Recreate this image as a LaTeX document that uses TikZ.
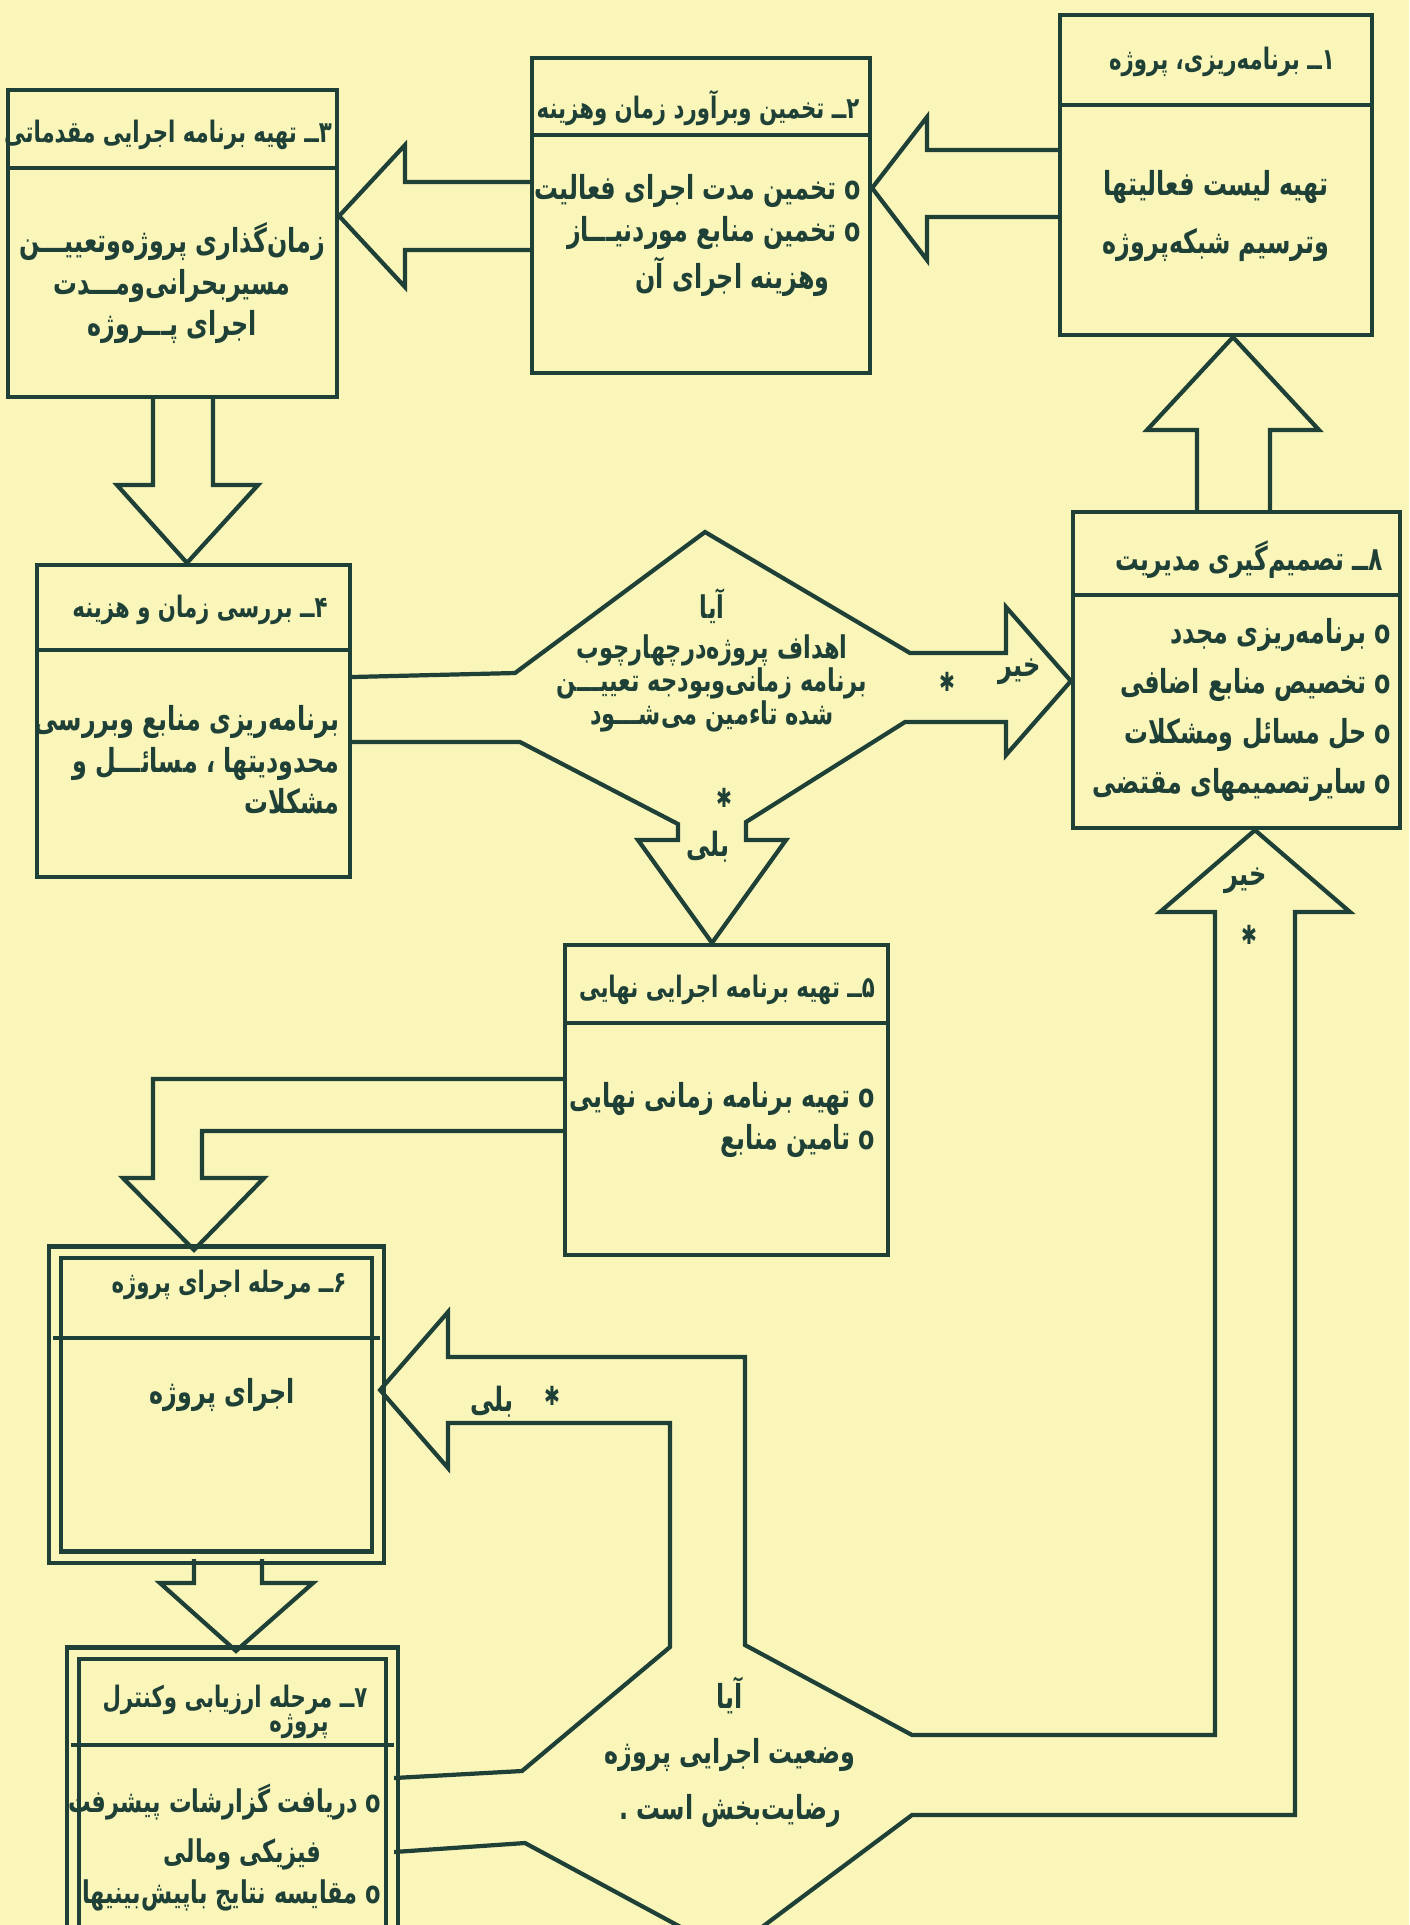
\documentclass[tikz,border=0pt]{standalone}
\usepackage{fontspec}
\newfontfamily\fafont[Script=Arabic, FakeStretch=0.72]{DejaVu Sans}
\TeXXeTstate=1
\usetikzlibrary{positioning}

\definecolor{paper}{RGB}{250,246,186}
\definecolor{ink}{RGB}{30,64,54}

% one right-to-left line
\newcommand{\rl}[1]{\beginR#1\endR}

\tikzset{
  box/.style={rectangle, draw=ink, line width=1.2pt, inner sep=0pt},
  dbox/.style={box, double=paper, double distance=2pt},
  rule/.style={draw=ink, line width=1.1pt},
  blockarrow/.style={draw=ink, line width=1.2pt, line join=miter},
  head/.style={font=\fafont\bfseries\fontsize{8.4}{10.5}\selectfont, text=ink, inner sep=0pt, align=center},
  body/.style={font=\fafont\bfseries\fontsize{9.4}{11.8}\selectfont, text=ink, inner sep=0pt, align=right},
  ask/.style={font=\fafont\bfseries\fontsize{8.9}{9.4}\selectfont, text=ink, inner sep=0pt, align=center},
  lbl/.style={font=\fafont\bfseries\fontsize{9.5}{9.5}\selectfont, text=ink, inner sep=0pt},
  starmark/.style={font=\fafont\fontsize{7.5}{7.5}\selectfont, text=ink, inner sep=0pt}
}

\begin{document}
\begin{tikzpicture}[x=0.1mm, y=-0.1mm]

    \useasboundingbox (0,0) rectangle (1409,1925);
    \clip (0,0) rectangle (1409,1925);
    \fill[paper] (0,0) rectangle (1409,1925);

    % boxes
    \node[box, minimum width=31.2mm, minimum height=32mm] (plan) at (1216,175) {};
    \node[box, minimum width=33.8mm, minimum height=31.5mm] (estimate) at (701,215.5) {};
    \node[box, minimum width=32.9mm, minimum height=30.7mm] (prelim) at (172.5,243.5) {};
    \node[box, minimum width=31.3mm, minimum height=31.2mm] (review) at (193.5,721) {};
    \node[box, minimum width=32.7mm, minimum height=31.6mm] (decide) at (1236.5,670) {};
    \node[box, minimum width=32.3mm, minimum height=31mm] (final) at (726.5,1100) {};
    \node[dbox, minimum width=32.3mm, minimum height=30.5mm] (execute) at (216.5,1404.5) {};
    \node[dbox, minimum width=31.9mm, minimum height=30mm] (control) at (232.5,1803) {};

    \draw[rule] ([yshift=-9.2mm]plan.north west) -- ([yshift=-9.2mm]plan.north east);
    \draw[rule] ([yshift=-7.9mm]estimate.north west) -- ([yshift=-7.9mm]estimate.north east);
    \draw[rule] ([yshift=-8mm]prelim.north west) -- ([yshift=-8mm]prelim.north east);
    \draw[rule] ([yshift=-8.7mm]review.north west) -- ([yshift=-8.7mm]review.north east);
    \draw[rule] ([yshift=-8.5mm]decide.north west) -- ([yshift=-8.5mm]decide.north east);
    \draw[rule] ([yshift=-8mm]final.north west) -- ([yshift=-8mm]final.north east);
    \draw[rule] ([yshift=-8.8mm]execute.north west) -- ([yshift=-8.8mm]execute.north east);
    \draw[rule] ([yshift=-9.4mm]control.north west) -- ([yshift=-9.4mm]control.north east);

    % box texts
    \node[head] (plan-h) at (1222,62) {\rl{۱ــ برنامه‌ریزی، پروژه}};
    \node[body, align=center, anchor=north] (plan-t) at (1216,170)
        {\rl{تهیه لیست فعالیتها}\\[4.5pt]\rl{وترسیم شبکه‌پروژه}};

    \node[head] (estimate-h) at (698,108) {\rl{۲ــ تخمین وبرآورد زمان وهزینه}};
    \node[body, anchor=north east] (estimate-t) at (862,174)
        {\rl{o تخمین مدت اجرای فعالیت}\\\rl{o تخمین منابع موردنیـــاز}\\[1.5pt]\rl{\hspace*{9pt}وهزینه اجرای آن}};

    \node[head] (prelim-h) at (168,135) {\rl{۳ــ تهیه برنامه اجرایی مقدماتی}};
    \node[body, align=center, anchor=north] (prelim-t) at (172,222)
        {\rl{زمان‌گذاری پروژه‌وتعییـــن}\\\rl{مسیربحرانی‌ومـــدت}\\\rl{اجرای پـــروژه}};

    \node[head] (review-h) at (200,610) {\rl{۴ــ بررسی زمان و هزینه}};
    \node[body, anchor=north east] (review-t) at (340,705)
        {\rl{برنامه‌ریزی منابع وبررسی}\\\rl{محدودیتها ، مسائـــل و}\\\rl{مشکلات}};

    \node[head, font=\fafont\bfseries\fontsize{9.3}{10.5}\selectfont] (decide-h) at (1249,560) {\rl{۸ــ تصمیم‌گیری مدیریت}};
    \node[body, anchor=north east] (decide-t) at (1392,618)
        {\rl{o برنامه‌ریزی مجدد}\\[2.4pt]\rl{o تخصیص منابع اضافی}\\[2.4pt]\rl{o حل مسائل ومشکلات}\\[2.4pt]\rl{o سایرتصمیمهای مقتضی}};

    \node[head] (final-h) at (727,990) {\rl{۵ــ تهیه برنامه اجرایی نهایی}};
    \node[body, anchor=north east] (final-t) at (876,1082)
        {\rl{o تهیه برنامه زمانی نهایی}\\\rl{o تامین منابع}};

    \node[head] (execute-h) at (229,1285) {\rl{۶ــ مرحله اجرای پروژه}};
    \node[body] (execute-t) at (222,1395) {\rl{اجرای پروژه}};

    \node[head, align=right, anchor=north east] (control-h) at (368,1684)
        {\rl{۷ــ مرحله ارزیابی وکنترل}\\[-3.5pt]\rl{\hspace*{11pt}پروژه}};
    \node[body, font=\fafont\bfseries\fontsize{8.9}{11.8}\selectfont, anchor=north east] (control-t) at (382,1783)
        {\rl{o دریافت گزارشات پیشرفت}\\[2.5pt]\rl{\hspace*{17pt}فیزیکی ومالی}\\\rl{o مقایسه نتایج باپیش‌بینیها}};

    % block arrows between boxes
    \draw[blockarrow] (plan.west |- 0,150) -- (927,150) -- (927,117) -- (estimate.east |- 0,188)
        -- (927,260) -- (927,217) -- (plan.west |- 0,217);
    \draw[blockarrow] (estimate.west |- 0,182) -- (405,182) -- (405,145) -- (prelim.east |- 0,216)
        -- (405,287) -- (405,250) -- (estimate.west |- 0,250);
    \draw[blockarrow] (153,0 |- prelim.south) -- (153,485) -- (117,485) -- (review.north -| 187,0)
        -- (258,485) -- (213,485) -- (213,0 |- prelim.south);
    \draw[blockarrow] (1197,0 |- decide.north) -- (1197,430) -- (1147,430) -- (plan.south -| 1233,0)
        -- (1319,430) -- (1270,430) -- (1270,0 |- decide.north);
    \draw[blockarrow] (final.west |- 0,1079) -- (153,1079) -- (153,1178) -- (123,1178)
        -- (execute.north -| 194,0) -- (264,1178) -- (202,1178) -- (202,1131) -- (final.west |- 0,1131);
    \draw[blockarrow] (194,0 |- execute.south) -- (194,1583) -- (160,1583) -- (control.north -| 236,0)
        -- (313,1583) -- (262,1583) -- (262,0 |- execute.south);

    % first decision with its two exits
    \draw[blockarrow] (review.east |- 0,677) -- (515,673) -- (705,532) -- (910,653) -- (1006,653)
        -- (1006,607) -- (decide.west |- 0,681) -- (1006,755) -- (1006,722) -- (905,722)
        -- (746,822) -- (746,840) -- (786,840) -- (final.north -| 712,0) -- (638,840)
        -- (678,840) -- (678,824) -- (520,742) -- (review.east |- 0,742);
    \node[ask] (goal) at (712,660)
        {\rl{آیا}\\[2pt]\rl{اهداف پروژه‌درچهارچوب}\\\rl{برنامه زمانی‌وبودجه تعییـــن}\\\rl{شده تاءمین می‌شـــود}};

    % second decision with its two exits
    \draw[blockarrow] (control.east |- 0,1778) -- (522,1771) -- (670,1647) -- (670,1423) -- (448,1423)
        -- (448,1468) -- (execute.east |- 0,1390) -- (448,1312) -- (448,1357) -- (745,1357)
        -- (745,1645) -- (912,1735) -- (1215,1735) -- (1215,912) -- (1160,912)
        -- (decide.south -| 1255,0) -- (1350,912) -- (1295,912) -- (1295,1815) -- (912,1815)
        -- (738,1945);
    \draw[blockarrow] (control.east |- 0,1852) -- (525,1843) -- (714,1945);
    \node[body, align=center] (status) at (730,1752)
        {\rl{آیا}\\[4pt]\rl{وضعیت اجرایی پروژه}\\[4pt]\rl{رضایت‌بخش است .}};

    % yes / no labels
    \node[lbl] (no1) at (1020,672) {\rl{خیر}};
    \node[starmark] (no1-m) at (947,682) {✱};
    \node[lbl] (yes1) at (708,847) {\rl{بلی}};
    \node[starmark] (yes1-m) at (724,798) {✱};
    \node[lbl] (no2) at (1246,881) {\rl{خیر}};
    \node[starmark] (no2-m) at (1249,935) {✱};
    \node[lbl] (yes2) at (492,1402) {\rl{بلی}};
    \node[starmark] (yes2-m) at (552,1396) {✱};

\end{tikzpicture}
\end{document}
